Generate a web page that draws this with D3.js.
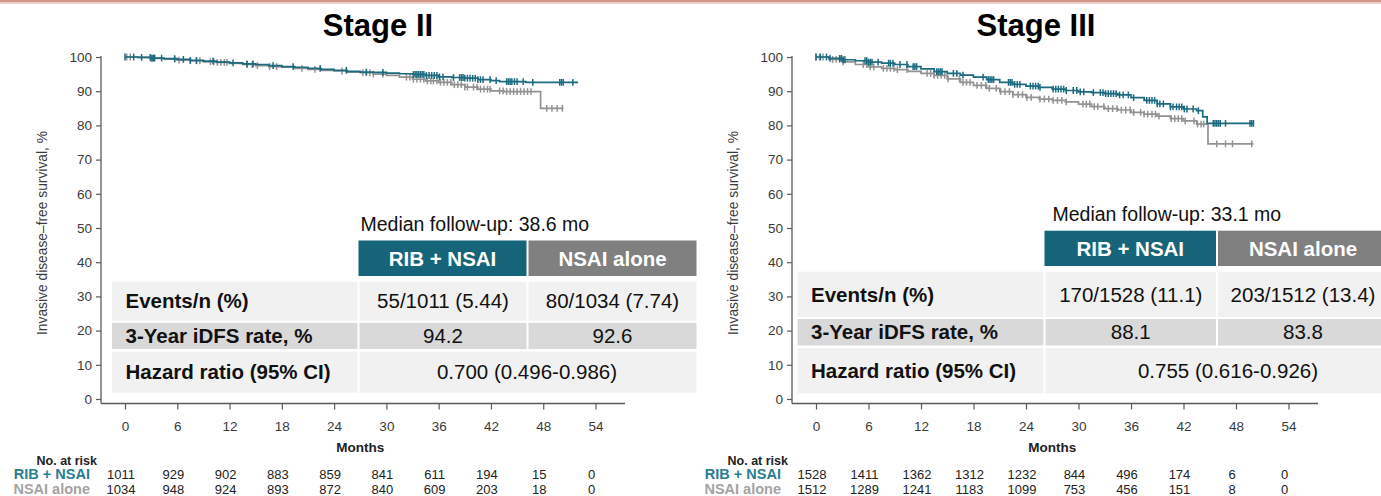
<!DOCTYPE html>
<html><head><meta charset="utf-8">
<script src="https://cdn.jsdelivr.net/npm/d3@7"></script>
<style>
html,body{margin:0;padding:0;background:#fff;overflow:hidden;}
svg{display:block;}
text{font-family:"Liberation Sans",Arial,Helvetica,sans-serif;}
</style></head><body>
<svg id="chart" width="1381" height="496"></svg>
<script>
// ---------- shared labels ----------
const monthTicks = [0, 6, 12, 18, 24, 30, 36, 42, 48, 54];
const survivalTicks = [0, 10, 20, 30, 40, 50, 60, 70, 80, 90, 100];
const armNames = ["RIB + NSAI", "NSAI alone"];
const rowLabels = ["Events/n (%)", "3-Year iDFS rate, %", "Hazard ratio (95% CI)"];

// ---------- Stage II ----------
const s2RibTime = [0, 1.5, 3, 4.5, 6, 7.5, 9, 10.5, 12, 13.5, 15, 16.5, 18, 19.5, 21, 22.5, 24, 25.5, 27, 28.5, 30, 31.5, 33, 34.5, 36, 37.5, 39, 40.5, 42, 43, 46, 52];
const s2RibSurv = [100, 99.9, 99.7, 99.5, 99.3, 99.0, 98.8, 98.5, 98.3, 98.0, 97.8, 97.5, 97.2, 97.0, 96.7, 96.4, 96.1, 95.8, 95.6, 95.5, 95.3, 95.1, 94.9, 94.6, 94.2, 94.0, 93.8, 93.4, 93.1, 92.8, 92.6, 92.6];
const s2RibCensor = [0, 1.0, 1.9, 2.9, 3.1, 3.3, 3.4, 4.2, 5.7, 6.7, 7.5, 8.2, 10.1, 12.4, 14.0, 14.7, 17.0, 19.3, 22.4, 25.4, 27.7, 29.6, 33.1, 33.3, 33.5, 33.7, 33.9, 34.1, 34.3, 34.6, 34.9, 35.2, 35.5, 35.8, 36.1, 36.5, 37.7, 38.4, 38.6, 38.8, 39.0, 39.3, 39.6, 39.9, 40.2, 40.5, 40.8, 41.1, 41.9, 42.6, 43.8, 44.0, 44.2, 44.4, 44.7, 45.0, 45.7, 46.8, 49.9, 50.1, 50.3, 51.4];
const s2NsaiTime = [0, 1.5, 3, 4.5, 6, 7.5, 9, 10.5, 12, 13.5, 15, 16.5, 18, 19.5, 21, 22.5, 24, 25.5, 27, 28.5, 30, 31.5, 33, 34.5, 36, 37.5, 39, 40.5, 42, 43.5, 47.7, 50.3];
const s2NsaiSurv = [100, 99.9, 99.6, 99.4, 99.1, 98.9, 98.6, 98.4, 98.1, 97.8, 97.5, 97.2, 97.0, 96.7, 96.4, 96.1, 95.9, 95.6, 95.4, 95.0, 94.6, 94.1, 93.5, 93.0, 92.6, 91.9, 91.2, 90.6, 90.1, 89.9, 85.0, 85.0];
const s2NsaiCensor = [0.2, 0.6, 3.0, 3.2, 5.7, 6.2, 7.5, 8.2, 8.6, 9.8, 10.2, 10.6, 11.0, 11.4, 11.7, 14.0, 14.6, 15.2, 16.6, 17.4, 20.3, 21.8, 24.9, 27.3, 27.7, 28.1, 28.5, 29.6, 32.3, 32.7, 33.1, 33.5, 33.9, 34.3, 34.7, 35.1, 35.4, 35.8, 36.2, 36.6, 37.0, 37.4, 37.8, 38.2, 38.6, 39.0, 39.3, 40.0, 40.4, 40.8, 41.2, 41.6, 41.9, 43.0, 43.4, 43.8, 44.2, 44.6, 45.0, 45.4, 45.8, 46.2, 46.6, 48.4, 49.0, 49.6, 50.2];
const s2RiskRib = [1011, 929, 902, 883, 859, 841, 611, 194, 15, 0];
const s2RiskNsai = [1034, 948, 924, 893, 872, 840, 609, 203, 18, 0];
const s2Median = "38.6";
const s2Events = ["55/1011 (5.44)", "80/1034 (7.74)"];
const s2Rate = ["94.2", "92.6"];
const s2Hazard = "0.700 (0.496-0.986)";

// ---------- Stage III ----------
const s3RibTime = [0, 1.5, 3, 4.5, 6, 7.5, 9, 10.5, 12, 13.5, 15, 16.5, 18, 19.5, 21, 22.5, 24, 25.5, 27, 28.5, 30, 31.5, 33, 34.5, 36, 37.5, 39, 40.5, 42, 43.5, 44.2, 44.7, 50.0];
const s3RibSurv = [100, 99.6, 99.2, 98.9, 98.5, 98.2, 97.8, 97.2, 96.5, 95.7, 95.2, 94.7, 94.1, 93.4, 92.6, 92.0, 91.5, 91.1, 90.6, 90.2, 89.8, 89.6, 89.3, 88.9, 88.1, 87.3, 86.3, 85.4, 84.8, 84.3, 82.5, 80.6, 80.6];
const s3RibCensor = [0, 0.5, 1.2, 1.6, 2.7, 2.9, 3.1, 3.3, 5.6, 5.8, 6.0, 6.2, 6.4, 7.1, 8.3, 8.5, 8.8, 9.6, 10.4, 11.1, 11.3, 11.5, 13.8, 14.0, 14.2, 14.4, 15.7, 16.1, 16.8, 19.1, 19.7, 19.9, 20.1, 20.3, 22.0, 22.2, 22.4, 22.7, 23.0, 23.3, 24.5, 24.8, 25.1, 25.4, 25.6, 27.1, 27.4, 27.7, 28.0, 28.3, 28.6, 29.4, 29.8, 30.2, 30.6, 31.7, 32.5, 32.8, 33.1, 33.4, 33.7, 34.0, 34.3, 34.7, 35.1, 35.7, 36.3, 37.8, 38.1, 38.4, 38.7, 39.0, 39.3, 39.7, 40.5, 40.8, 41.2, 41.5, 41.8, 42.1, 42.4, 43.1, 43.7, 45.4, 45.6, 45.8, 46.0, 46.2, 46.8, 49.6, 49.8, 50.0];
const s3NsaiTime = [0, 1.5, 3, 4.5, 6, 7.5, 9, 10.5, 12, 13.5, 15, 16.5, 18, 19.5, 21, 22.5, 24, 25.5, 27, 28.5, 30, 31.5, 33, 34.5, 36, 37.5, 39, 40.5, 42, 43.5, 44.8, 50.0];
const s3NsaiSurv = [100, 99.3, 98.6, 97.8, 97.1, 96.7, 96.3, 95.8, 95.2, 94.6, 93.6, 92.6, 91.7, 90.8, 89.9, 89.0, 88.2, 87.7, 87.3, 86.9, 86.2, 85.5, 84.9, 84.5, 83.8, 83.3, 82.7, 82.0, 81.3, 80.4, 74.6, 74.6];
const s3NsaiCensor = [0, 0.4, 0.8, 1.9, 2.3, 2.7, 3.1, 5.4, 5.8, 6.2, 6.6, 7.7, 8.1, 8.5, 8.9, 9.3, 10.4, 12.7, 13.1, 13.5, 13.9, 14.3, 14.7, 15.1, 16.4, 16.8, 17.2, 17.6, 18.4, 18.9, 19.4, 19.8, 20.6, 21.1, 21.6, 22.1, 22.5, 23.1, 23.6, 24.1, 24.6, 25.6, 26.1, 26.6, 27.1, 27.6, 28.1, 28.6, 30.5, 30.9, 31.3, 31.8, 32.2, 32.9, 33.4, 33.9, 34.4, 34.9, 35.4, 35.9, 36.3, 37.1, 37.5, 37.9, 38.4, 38.8, 39.2, 40.6, 41.0, 41.4, 41.8, 42.2, 43.2, 43.6, 44.0, 44.3, 45.8, 46.8, 47.6, 49.8];
const s3RiskRib = [1528, 1411, 1362, 1312, 1232, 844, 496, 174, 6, 0];
const s3RiskNsai = [1512, 1289, 1241, 1183, 1099, 753, 456, 151, 8, 0];
const s3Median = "33.1";
const s3Events = ["170/1528 (11.1)", "203/1512 (13.4)"];
const s3Rate = ["88.1", "83.8"];
const s3Hazard = "0.755 (0.616-0.926)";

// ---------- styling ----------
const COL_RIB = "#1b6a7f";
const COL_NSAI = "#929292";
const HEAD_RIB = "#15647a";
const HEAD_NSAI = "#7f807f";
const ROW_LIGHT = "#f1f1f1";
const ROW_DARK = "#d9d9d9";
const AXIS_COL = "#595959";
const TEXT_COL = "#3a3a3a";

const panels = [
  {
    title: "Stage II", titleX: 378,
    rib: {time: s2RibTime, surv: s2RibSurv, censor: s2RibCensor, risk: s2RiskRib},
    nsai: {time: s2NsaiTime, surv: s2NsaiSurv, censor: s2NsaiCensor, risk: s2RiskNsai},
    median: s2Median, events: s2Events, rate: s2Rate, hazard: s2Hazard,
    yAxisX: 101, x0: 125, x54: 595.5, axisEnd: 625, yTitleX: 47, labelRight: 90,
    table: {left: 112, c1: 358.5, c2: 527.5, right: 696.5, headTop: 240.5, headBot: 276,
            medianX: 360.5, medianY: 231, hazardX: 527,
            rows: [[281.7, 320.7], [322.8, 349], [351.7, 392.7]]}
  },
  {
    title: "Stage III", titleX: 1036,
    rib: {time: s3RibTime, surv: s3RibSurv, censor: s3RibCensor, risk: s3RiskRib},
    nsai: {time: s3NsaiTime, surv: s3NsaiSurv, censor: s3NsaiCensor, risk: s3RiskNsai},
    median: s3Median, events: s3Events, rate: s3Rate, hazard: s3Hazard,
    yAxisX: 792, x0: 816, x54: 1288.5, axisEnd: 1318, yTitleX: 738, labelRight: 781,
    table: {left: 797.5, c1: 1044.5, c2: 1217, right: 1388, headTop: 230.7, headBot: 266,
            medianX: 1052.5, medianY: 221, hazardX: 1228,
            rows: [[271.7, 317], [319, 345.5], [348, 393.3]]}
  }
];

const svg = d3.select("#chart");

// thin salmon rule along the top edge
svg.append("rect").attr("x", 0).attr("y", 0).attr("width", 1381).attr("height", 2.5).attr("fill", "#d1968a");
svg.append("rect").attr("x", 0).attr("y", 2.5).attr("width", 1381).attr("height", 1.5).attr("fill", "#ecd0c8");

const Y_TOP = 57, Y_BOT = 399, X_AXIS_Y = 403.5;

panels.forEach(p => {
  const g = svg.append("g");
  const x = d3.scaleLinear().domain([0, 54]).range([p.x0, p.x54]);
  const y = d3.scaleLinear().domain([0, 100]).range([Y_BOT, Y_TOP]);

  // title
  g.append("text").attr("x", p.titleX).attr("y", 35.5).attr("text-anchor", "middle")
    .attr("font-size", 31).attr("font-weight", "bold").attr("fill", "#000").text(p.title);

  // y axis
  const yAxis = g.append("g").attr("transform", `translate(${p.yAxisX},0)`)
    .call(d3.axisLeft(y).tickValues(survivalTicks).tickSize(5).tickPadding(4));
  yAxis.select(".domain").attr("d", `M0,${Y_TOP - 1}V${X_AXIS_Y}`);
  // x axis
  const xAxis = g.append("g").attr("transform", `translate(0,${X_AXIS_Y})`)
    .call(d3.axisBottom(x).tickValues(monthTicks).tickSize(6).tickPadding(12));
  xAxis.select(".domain").attr("d", `M${p.yAxisX},0H${p.axisEnd}`);
  [yAxis, xAxis].forEach(a => {
    a.selectAll(".domain").attr("stroke", AXIS_COL).attr("stroke-width", 1.3);
    a.selectAll(".tick line").attr("stroke", AXIS_COL).attr("stroke-width", 1.2);
    a.selectAll(".tick text").attr("fill", TEXT_COL).attr("font-size", 13.5)
      .attr("font-family", '"Liberation Sans",Arial,sans-serif');
  });

  // y axis title
  g.append("text").attr("transform", `translate(${p.yTitleX},233) rotate(-90)`)
    .attr("text-anchor", "middle").attr("font-size", 13.8).attr("fill", TEXT_COL)
    .text("Invasive disease\u2013free survival, %");

  // x axis title
  g.append("text").attr("x", x(27)).attr("y", 452).attr("text-anchor", "middle")
    .attr("font-size", 13.5).attr("font-weight", "bold").attr("fill", "#222").text("Months");

  // ---------- summary table ----------
  const t = p.table;
  g.append("text").attr("x", t.medianX).attr("y", t.medianY).attr("font-size", 19.5)
    .attr("fill", "#111").text(`Median follow-up: ${p.median} mo`);
  const headCols = [[t.c1, t.c2 - 1], [t.c2 + 1, t.right]];
  headCols.forEach((c, i) => {
    g.append("rect").attr("x", c[0]).attr("y", t.headTop).attr("width", c[1] - c[0])
      .attr("height", t.headBot - t.headTop).attr("fill", i === 0 ? HEAD_RIB : HEAD_NSAI);
    g.append("text").attr("x", (c[0] + c[1]) / 2).attr("y", (t.headTop + t.headBot) / 2 + 7.5)
      .attr("text-anchor", "middle").attr("font-size", 20.5).attr("font-weight", "bold")
      .attr("fill", "#fff").text(armNames[i]);
  });
  const bodyCols = [[t.left, t.c1 - 1], [t.c1 + 1, t.c2 - 1], [t.c2 + 1, t.right]];
  const rowValues = [p.events, p.rate, null];
  t.rows.forEach((r, ri) => {
    const fill = ri === 1 ? ROW_DARK : ROW_LIGHT;
    const mid = (r[0] + r[1]) / 2 + 7.2;
    if (ri < 2) {
      bodyCols.forEach(c => g.append("rect").attr("x", c[0]).attr("y", r[0])
        .attr("width", c[1] - c[0]).attr("height", r[1] - r[0]).attr("fill", fill));
      rowValues[ri].forEach((v, vi) => {
        const c = bodyCols[vi + 1];
        g.append("text").attr("x", (c[0] + c[1]) / 2).attr("y", mid).attr("text-anchor", "middle")
          .attr("font-size", 20.5).attr("fill", "#111").text(v);
      });
    } else {
      g.append("rect").attr("x", bodyCols[0][0]).attr("y", r[0])
        .attr("width", bodyCols[0][1] - bodyCols[0][0]).attr("height", r[1] - r[0]).attr("fill", fill);
      g.append("rect").attr("x", bodyCols[1][0]).attr("y", r[0])
        .attr("width", bodyCols[2][1] - bodyCols[1][0]).attr("height", r[1] - r[0]).attr("fill", fill);
      g.append("text").attr("x", t.hazardX).attr("y", mid).attr("text-anchor", "middle")
        .attr("font-size", 20.5).attr("fill", "#111").text(p.hazard);
    }
    g.append("text").attr("x", t.left + 13.5).attr("y", mid).attr("font-size", 20.5)
      .attr("font-weight", "bold").attr("fill", "#111").text(rowLabels[ri]);
  });

  // ---------- Kaplan–Meier curves ----------
  const line = d3.line().x(d => x(d[0])).y(d => y(d[1])).curve(d3.curveStepAfter);
  [[p.nsai, COL_NSAI], [p.rib, COL_RIB]].forEach(([s, col]) => {
    const pts = s.time.map((tm, i) => [tm, s.surv[i]]);
    g.append("path").attr("d", line(pts)).attr("fill", "none")
      .attr("stroke", col).attr("stroke-width", 1.7);
    const survAt = tm => s.surv[Math.max(0, d3.bisectRight(s.time, tm) - 1)];
    g.append("g").selectAll("line").data(s.censor).join("line")
      .attr("x1", d => x(d)).attr("x2", d => x(d))
      .attr("y1", d => y(survAt(d)) - 3.4).attr("y2", d => y(survAt(d)) + 3.4)
      .attr("stroke", col).attr("stroke-width", 1.5);
  });

  // ---------- number at risk ----------
  g.append("text").attr("x", p.labelRight + 7).attr("y", 465).attr("text-anchor", "end")
    .attr("font-size", 12.5).attr("font-weight", "bold").attr("fill", "#222").text("No. at risk");
  [[p.rib.risk, "#2a7d93", 479, 0], [p.nsai.risk, "#a3a3a3", 493.5, 1]].forEach(([vals, col, yy, i]) => {
    g.append("text").attr("x", p.labelRight).attr("y", yy).attr("text-anchor", "end")
      .attr("font-size", 14.5).attr("font-weight", "bold").attr("fill", col).text(armNames[i]);
    g.append("g").selectAll("text").data(vals).join("text")
      .attr("x", (d, k) => x(monthTicks[k]) - 4).attr("y", yy).attr("text-anchor", "middle")
      .attr("font-size", 13).attr("fill", "#222")
      .attr("font-family", '"Liberation Sans Narrow","Arial Narrow","Liberation Sans",sans-serif')
      .text(d => d);
  });
});
</script>
</body></html>
